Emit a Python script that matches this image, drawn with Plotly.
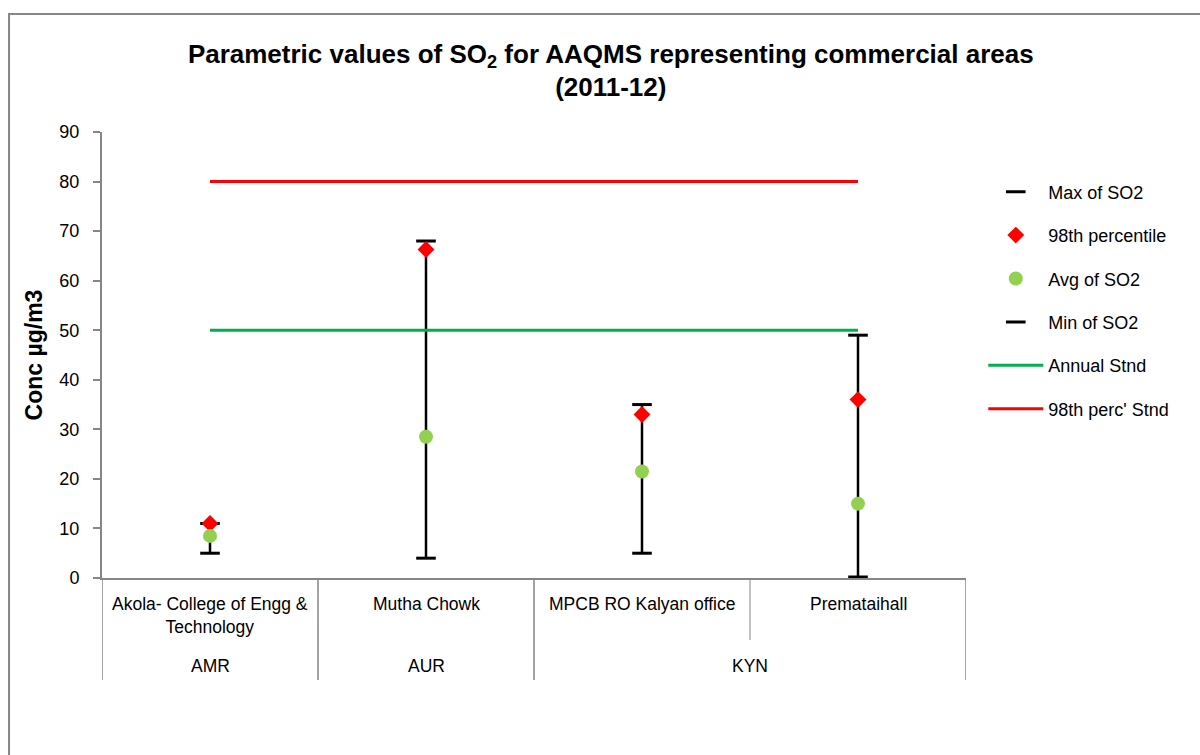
import plotly.graph_objects as go

categories = ["Akola- College of Engg &<br>Technology", "Mutha Chowk", "MPCB RO Kalyan office", "Premataihall"]
groups = ["AMR", "AUR", "KYN"]
group_spans = [(0, 0), (1, 1), (2, 3)]
max_so2 = [11, 68, 35, 49]
p98 = [11, 66.3, 33, 36]
avg_so2 = [8.5, 28.5, 21.5, 15]
min_so2 = [5, 4, 5, 0.2]
annual_stnd = [50, 50, 50, 50]
p98_stnd = [80, 80, 80, 80]
y_ticks = [0, 10, 20, 30, 40, 50, 60, 70, 80, 90]

FONT = "Liberation Sans, Arial, sans-serif"
GRAY = "#868686"
xs = list(range(len(categories)))

fig = go.Figure()

# high-low lines
hx, hy = [], []
for i in xs:
    hx += [i, i, None]
    hy += [min_so2[i], max_so2[i], None]
fig.add_trace(go.Scatter(x=hx, y=hy, mode="lines", line=dict(color="black", width=2.5),
                         showlegend=False, hoverinfo="skip"))

fig.add_trace(go.Scatter(x=xs, y=max_so2, mode="markers", name="Max of SO2", legendgroup="a",
                         marker=dict(symbol="line-ew", size=14, line=dict(color="black", width=3))))
fig.add_trace(go.Scatter(x=xs, y=p98, mode="markers", name="98th percentile", legendgroup="b",
                         marker=dict(symbol="diamond", size=13, color="#FF0000")))
fig.add_trace(go.Scatter(x=xs, y=avg_so2, mode="markers", name="Avg of SO2", legendgroup="c",
                         marker=dict(symbol="circle", size=14, color="#92D050")))
fig.add_trace(go.Scatter(x=xs, y=min_so2, mode="markers", name="Min of SO2", legendgroup="d",
                         marker=dict(symbol="line-ew", size=14, line=dict(color="black", width=3))))
fig.add_trace(go.Scatter(x=xs, y=annual_stnd, mode="lines", name="Annual Stnd", legendgroup="e",
                         line=dict(color="#00B050", width=3)))
fig.add_trace(go.Scatter(x=xs, y=p98_stnd, mode="lines", name="98th perc' Stnd", legendgroup="f",
                         line=dict(color="#FF0000", width=3)))

shapes = []
# outer border
shapes.append(dict(type="rect", xref="paper", yref="paper", x0=-0.1076, x1=1.28, y0=-0.41, y1=1.2645,
                   line=dict(color=GRAY, width=2), layer="below"))
# dividers
for b in [-0.5, 0.5, 1.5, 3.5]:
    shapes.append(dict(type="line", xref="x", yref="paper", x0=b, x1=b, y0=0, y1=-0.2287,
                       line=dict(color=GRAY, width=1.5)))
shapes.append(dict(type="line", xref="x", yref="paper", x0=2.5, x1=2.5, y0=0, y1=-0.139,
                   line=dict(color=GRAY, width=1)))

annotations = []
for i, c in enumerate(categories):
    annotations.append(dict(x=i, y=-0.032, xref="x", yref="paper", text=c, showarrow=False,
                            yanchor="top", xanchor="center", font=dict(family=FONT, size=17.5, color="black")))
for g, (a, b) in zip(groups, group_spans):
    annotations.append(dict(x=(a + b) / 2, y=-0.197, xref="x", yref="paper", text=g, showarrow=False,
                            yanchor="middle", xanchor="center", font=dict(family=FONT, size=17.5, color="black")))

fig.update_layout(
    width=1200, height=755,
    margin=dict(l=102, r=234, t=132, b=177),
    paper_bgcolor="white", plot_bgcolor="white",
    font=dict(family=FONT, size=17, color="black"),
    title=dict(text="<b>Parametric values of SO<sub>2</sub> for AAQMS representing commercial areas<br>(2011-12)</b>",
               x=0.509, xanchor="center", y=0.917, yanchor="top", font=dict(family=FONT, size=26, color="black")),
    xaxis=dict(range=[-0.5, 3.5], showticklabels=False, showgrid=False, zeroline=False,
               showline=True, linecolor=GRAY, linewidth=2, ticks=""),
    yaxis=dict(range=[0, 90], tickvals=y_ticks, showgrid=False, zeroline=False, showline=True,
               linecolor=GRAY, linewidth=2, ticks="outside", ticklen=7, tickcolor=GRAY, tickwidth=1.5,
               tickfont=dict(family=FONT, size=18), ticklabelstandoff=10,
               title=dict(text="<b>Conc µg/m3</b>", font=dict(family=FONT, size=23), standoff=10)),
    legend=dict(x=1.020, y=0.907, xanchor="left", yanchor="top", tracegroupgap=17,
                itemwidth=55, font=dict(family=FONT, size=18), bgcolor="rgba(0,0,0,0)"),
    shapes=shapes, annotations=annotations,
)

fig.write_html("out.html", config={"displayModeBar": False},
               post_script="document.body.style.margin='0px';")
